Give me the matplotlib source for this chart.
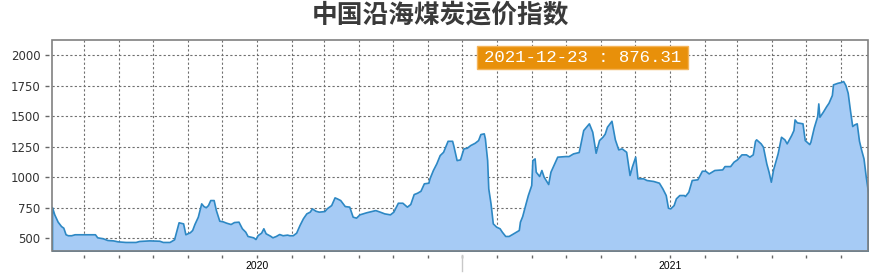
import numpy as np
import pandas as pd
import matplotlib
matplotlib.use('Agg')
import matplotlib.pyplot as plt
import matplotlib.dates as mdates
from matplotlib.patches import Rectangle

# Дни от 2020-01-01 и значения индекса
days = [-181, -179, -176, -173, -171, -169, -167, -164, -161, -143,
        -141, -136, -132, -127, -123, -116, -107, -104, -95, -86,
        -83, -77, -73, -69, -65, -63, -59, -57, -55, -52,
        -49, -47, -45, -43, -41, -38, -36, -33, -30, -27,
        -23, -20, -16, -13, -10, -8, -3, -1, 1, 4,
        6, 8, 12, 14, 17, 20, 23, 27, 29, 32,
        35, 38, 41, 44, 47, 49, 52, 55, 60, 62,
        66, 69, 71, 74, 78, 82, 85, 88, 91, 97,
        105, 109, 113, 118, 121, 125, 129, 133, 136, 139,
        142, 145, 148, 152, 153, 156, 159, 162, 165, 169,
        173, 174, 177, 180, 183, 186, 189, 193, 196, 198,
        201, 202, 204, 205, 207, 209, 212, 215, 217, 220,
        223, 226, 232, 233, 235, 238, 240, 243, 244, 246,
        247, 250, 252, 254, 258, 260, 262, 266, 273, 276,
        280, 285, 286, 289, 294, 297, 300, 303, 306, 308,
        310, 314, 317, 320, 323, 327, 330, 332, 335, 337,
        342, 345, 351, 356, 359, 362, 364, 366, 369, 371,
        374, 378, 379, 382, 385, 390, 394, 397, 400, 405,
        412, 414, 419, 422, 425, 429, 433, 436, 439, 441,
        442, 446, 448, 451, 453, 455, 457, 461, 464, 467,
        469, 473, 475, 476, 478, 483, 485, 489, 490, 493,
        496, 497, 498, 501, 504, 506, 509, 510, 514, 517,
        519, 521, 523, 525, 527, 529, 531, 533, 535, 537,
        539, 541]

values = [755, 696, 636, 600, 587, 533, 525, 525, 533, 533,
          508, 500, 486, 483, 475, 470, 470, 478, 483, 480,
          470, 470, 492, 631, 622, 533, 550, 568, 617, 677,
          786, 764, 754, 772, 813, 813, 731, 644, 639, 628,
          617, 633, 636, 582, 554, 519, 508, 494, 527, 546,
          582, 541, 521, 508, 519, 535, 525, 530, 525, 525,
          546, 609, 664, 704, 718, 745, 726, 718, 723, 745,
          772, 835, 827, 813, 764, 759, 677, 669, 696, 713,
          731, 718, 704, 696, 718, 791, 791, 759, 781, 862,
          873, 889, 950, 955, 991, 1059, 1113, 1181, 1208, 1298,
          1298, 1263, 1140, 1146, 1236, 1241, 1263, 1282, 1304, 1353,
          1359, 1318, 1140, 909, 786, 622, 595, 582, 554, 519,
          519, 535, 568, 636, 682, 786, 854, 936, 1140, 1154,
          1045, 1010, 1059, 1004, 944, 1045, 1086, 1168, 1173, 1173,
          1195, 1206, 1250, 1386, 1441, 1372, 1200, 1304, 1331, 1356,
          1413, 1462, 1310, 1228, 1236, 1208, 1018, 1086, 1168, 991,
          991, 977, 969, 955, 909, 854, 750, 745, 772, 827,
          854, 854, 846, 881, 977, 983, 1053, 1053, 1031, 1059,
          1064, 1091, 1091, 1127, 1146, 1187, 1187, 1168, 1187, 1298,
          1310, 1277, 1250, 1113, 1045, 963, 1064, 1195, 1331, 1310,
          1277, 1345, 1386, 1473, 1449, 1441, 1304, 1271, 1290, 1408,
          1500, 1604, 1495, 1536, 1582, 1609, 1673, 1760, 1773, 1779,
          1787, 1754, 1691, 1550, 1419, 1433, 1441, 1298, 1222, 1154,
          1004, 876.31]

y_ticks = [500, 750, 1000, 1250, 1500, 1750, 2000]
title = '中国沿海煤炭运价指数'
last_label = '2021-12-23 : 876.31'

dates = pd.Timestamp('2020-01-01') + pd.to_timedelta(days, unit='D')

fig = plt.figure(figsize=(8.8, 2.78), dpi=100)
ax = fig.add_axes([0.0591, 0.0971, 0.9273, 0.7590])

ax.set_ylim(396, 2123)
ax.set_xlim(dates[0], dates[-1])

# Заливка и линия
ax.fill_between(dates, values, ax.get_ylim()[0], facecolor='#a6cbf5',
                edgecolor='#2d88c4', linewidth=1.2, zorder=2)

# Сетка
ax.xaxis.set_major_locator(mdates.MonthLocator())
ax.xaxis.set_major_formatter(plt.FuncFormatter(
    lambda v, pos: mdates.num2date(v).strftime('%Y') if mdates.num2date(v).month == 1 else ''))
ax.set_yticks(y_ticks)
ax.grid(True, color='#707070', linestyle=(0, (2, 2)), linewidth=0.8, zorder=1)
ax.set_axisbelow(True)

# Рамка отдельно, оси с отступом
for s in ax.spines.values():
    s.set_visible(False)
ax.spines['left'].set_position(('outward', 2.2))
ax.spines['bottom'].set_position(('outward', 2.9))
ax.add_patch(Rectangle((0, 0), 1, 1, transform=ax.transAxes, fill=False,
                       edgecolor='#808080', linewidth=1.2, zorder=5, clip_on=False))

ax.tick_params(axis='y', length=3, width=1, color='#666666', pad=3,
               labelsize=8.5, labelcolor='#333333')
ax.tick_params(axis='x', length=2.5, width=1, color='#666666', pad=1.5,
               labelsize=7.5, labelcolor='#000000')
for lab in ax.get_xticklabels():
    lab.set_family(['Liberation Sans', 'DejaVu Sans'])

# длинная отметка на середине года
ax.axvline(pd.Timestamp('2020-07-01'), ymin=-0.019, ymax=-0.093, color='#c8c8c8',
           linewidth=1, clip_on=False)

# Последнее значение
ax.add_patch(Rectangle((0.5208, 0.8626), 0.2586, 0.109, transform=ax.transAxes,
                       facecolor='#e8900a', edgecolor='#f4b45a', linewidth=1, zorder=6))
ax.text(0.6501, 0.917, last_label, transform=ax.transAxes, ha='center', va='center',
        color='white', fontsize=12.5, family=['Liberation Mono', 'DejaVu Sans Mono'],
        zorder=7)

fig.text(0.5005, 0.948, title, ha='center', va='center', fontsize=18.5,
         fontweight='bold', color='#3a3a3a', family=['Noto Sans CJK SC', 'DejaVu Sans'])

fig.savefig('out.png', dpi=100)
